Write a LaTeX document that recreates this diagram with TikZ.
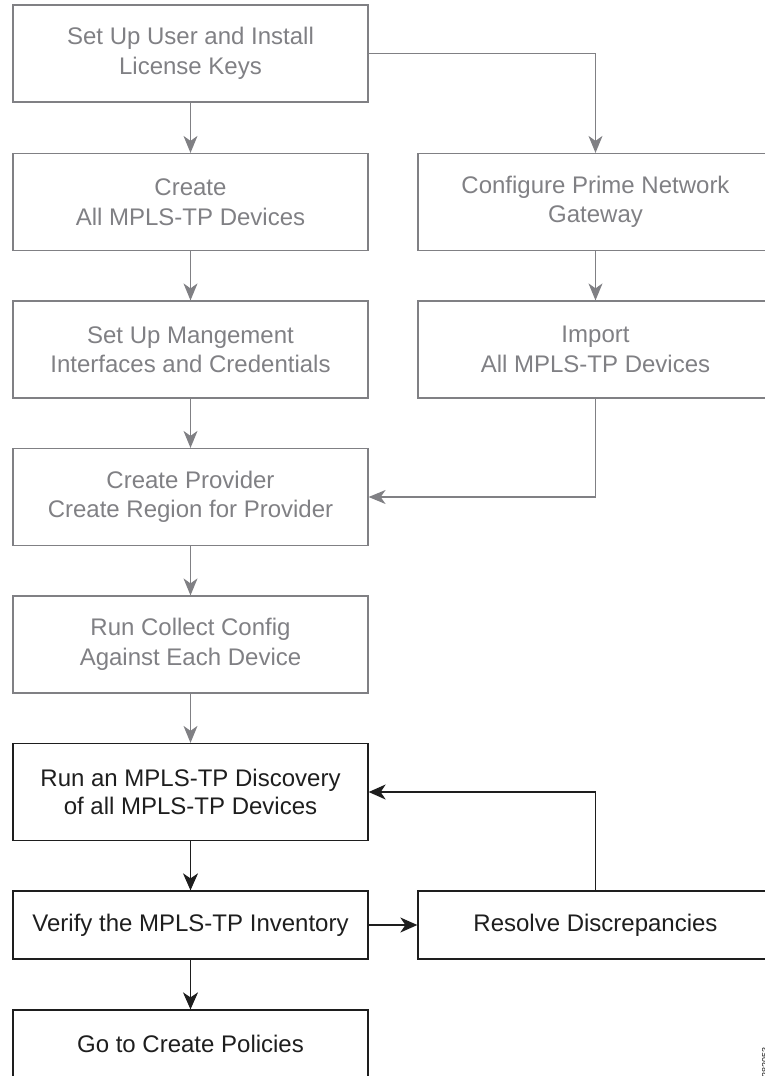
\documentclass[tikz,border=0pt]{standalone}
\usepackage{fontspec}
\setmainfont{Liberation Sans}
\usetikzlibrary{arrows.meta}
\definecolor{cgray}{RGB}{128,128,132}
\definecolor{cblack}{RGB}{30,30,30}
\begin{document}
\begin{tikzpicture}[x=1pt,y=-1pt,
  graybox/.style={draw=cgray, line width=1.2pt, text=cgray, minimum width=355pt, minimum height=97pt, align=center, inner sep=0pt, font=\fontsize{24}{29.5}\selectfont},
  blackbox/.style={draw=cblack, line width=1.3pt, text=cblack, minimum width=355pt, minimum height=97pt, align=center, inner sep=0pt, font=\fontsize{24}{28}\selectfont},
  grayarrow/.style={draw=cgray, line width=1.2pt, -{Stealth[length=17pt,width=14pt,inset=5pt]}},
  blackarrow/.style={draw=cblack, line width=1.3pt, -{Stealth[length=17pt,width=15pt,inset=5pt]}}]
\useasboundingbox (0,0) rectangle (765,1076);
\node[graybox] (b1) at (190.5,53.5) {Set Up User and Install\\License Keys};
\node[graybox] (b2) at (190.5,202) {Create\\All MPLS-TP Devices};
\node[graybox] (b3) at (190.5,349.5) {Set Up Mangement\\Interfaces and Credentials};
\node[graybox] (b4) at (190.5,497) {Create Provider\\Create Region for Provider};
\node[graybox] (b5) at (190.5,644.5) {Run Collect Config\\Against Each Device};
\node[graybox] (r1) at (595.5,202) {Configure Prime Network\\Gateway};
\node[graybox] (r2) at (595.5,349.5) {Import\\All MPLS-TP Devices};
\node[blackbox] (b6) at (190.5,792) {Run an MPLS-TP Discovery\\of all MPLS-TP Devices};
\node[blackbox, minimum height=68pt] (b7) at (190.5,925) {Verify the MPLS-TP Inventory};
\node[blackbox, minimum height=68pt] (b8) at (190.5,1044) {Go to Create Policies};
\node[blackbox, minimum height=68pt] (rd) at (595.5,925) {Resolve Discrepancies};
\node[rotate=90, anchor=north east, inner sep=0pt, text=cblack, font=\fontsize{9}{9}\selectfont] (fig) at (762,1047) {282053};
\draw[grayarrow] (b1.south) -- (b2.north);
\draw[grayarrow] (b2.south) -- (b3.north);
\draw[grayarrow] (b3.south) -- (b4.north);
\draw[grayarrow] (b4.south) -- (b5.north);
\draw[grayarrow] (b5.south) -- (b6.north);
\draw[grayarrow] (b1.east) -| (r1.north);
\draw[grayarrow] (r1.south) -- (r2.north);
\draw[grayarrow] (r2.south) |- (b4.east);
\draw[blackarrow] (b6.south) -- (b7.north);
\draw[blackarrow] (b7.south) -- (b8.north);
\draw[blackarrow] (b7.east) -- (rd.west);
\draw[blackarrow] (rd.north) |- (b6.east);
\end{tikzpicture}
\end{document}
